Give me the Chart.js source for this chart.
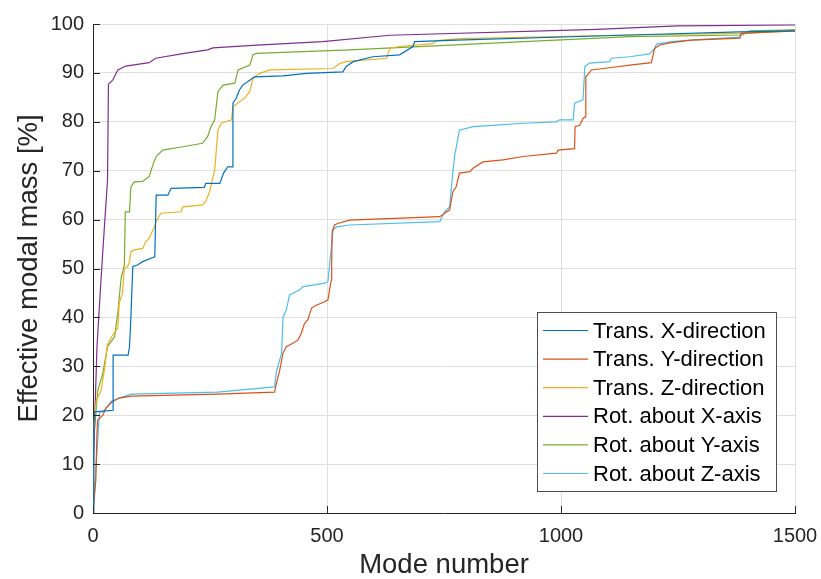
<!DOCTYPE html>
<html>
<head>
<meta charset="utf-8">
<script src="https://cdn.jsdelivr.net/npm/chart.js@4/dist/chart.umd.min.js"></script>
<style>
  html, body { margin: 0; padding: 0; background: #fff; }
  #wrap { width: 821px; height: 579px; }
</style>
</head>
<body>
<div id="wrap"><canvas id="chart" width="821" height="579"></canvas></div>
<script>
// ── Series: [mode number, cumulative effective modal mass %] ──
const transX = [
  [0, 0], [1, 10], [2, 17], [3, 20.7], [43, 21], [43, 32.3], [75, 32.3], [78, 34], [81, 40],
  [85, 50.4], [95, 50.7], [106, 51.4], [124, 52.1], [132, 52.4], [135, 65], [160, 65],
  [167, 66.4], [238, 66.6], [241, 67.4], [271, 67.4], [279, 69.5], [288, 70.8], [299, 70.8],
  [299, 83.8], [306, 84.8], [313, 86.5], [320, 87.5], [335, 88.5], [345, 89.2], [406, 89.4],
  [456, 89.9], [534, 90.2], [541, 91.3], [556, 92.3], [598, 93.3], [655, 93.7], [684, 95.4],
  [687, 96.4], [776, 96.7], [1147, 97.75], [1382, 98.4], [1500, 98.6]
];
const transY = [
  [0, 0], [6, 6.7], [8.5, 16.4], [10, 19], [21, 20], [28, 21.5], [42, 22.8], [56, 23.5],
  [81, 23.9], [266, 24.3], [388, 24.7], [392, 26.5], [399, 29.2], [406, 32.7], [413, 34],
  [427, 34.7], [438, 35.4], [445, 36.7], [452, 38.8], [459, 39.5], [467, 41.9], [477, 42.5],
  [495, 43.2], [502, 43.6], [509, 47.6], [510, 51], [511, 57.5], [516, 58.9], [523, 59.2],
  [548, 59.9], [741, 60.6], [762, 62], [769, 65.7], [776, 66.7], [783, 69.5], [805, 69.8],
  [812, 70.5], [833, 71.8], [876, 72.2], [919, 72.9], [990, 73.6], [994, 74.2], [1029, 74.5],
  [1030, 79], [1040, 79.3], [1047, 80.7], [1052, 81], [1053, 89.2], [1062, 90.2], [1065, 90.6],
  [1108, 91.1], [1147, 91.6], [1193, 92.1], [1200, 95], [1211, 95.7], [1236, 96.2],
  [1279, 96.7], [1382, 97.1], [1385, 98.1], [1500, 98.6]
];
const transZ = [
  [0, 0], [0.5, 15], [1.5, 17], [7, 23], [17, 25], [24, 29], [31, 34.4], [42, 36.4], [53, 37.8],
  [56, 42.9], [63, 44.9], [67, 50], [74, 50.4], [78, 51.4], [81, 53.4], [88, 53.8], [106, 54.1],
  [113, 55.5], [120, 56.2], [131, 58.5], [135, 59.6], [145, 61.3], [188, 61.6], [192, 62.6],
  [234, 63], [241, 63.7], [249, 65.7], [253, 67.4], [260, 70.1], [267, 78.3], [274, 79.7],
  [296, 80.4], [299, 83.1], [313, 84.1], [324, 84.8], [335, 86.2], [342, 88.9], [356, 89.9],
  [378, 90.6], [513, 90.9], [527, 91.9], [541, 92.3], [627, 93], [634, 95], [655, 95.4],
  [726, 96], [734, 96.6], [784, 97], [1147, 97.75], [1382, 98.1], [1500, 98.6]
];
const rotX = [
  [0, 0], [1, 8], [3, 17], [8.5, 34], [17, 47.6], [24, 58], [31, 68], [33, 87.7], [42, 88.5],
  [53, 90.6], [70, 91.4], [120, 92.1], [134, 93], [195, 94], [245, 94.7], [256, 95.1],
  [350, 95.7], [491, 96.4], [634, 97.7], [1076, 98.9], [1249, 99.6], [1500, 99.8]
];
const rotY = [
  [0, 0], [1, 14.3], [10, 25], [21, 28.6], [31, 34], [46, 36], [53, 41], [60, 48], [67, 50.7],
  [69, 61.6], [78, 61.6], [81, 66.7], [88, 67.7], [106, 67.8], [120, 68.8], [128, 71.2],
  [135, 72.9], [149, 74.2], [192, 74.9], [234, 75.6], [245, 77], [252, 79], [260, 80.4],
  [267, 86.2], [278, 87.5], [303, 87.9], [310, 90.6], [335, 91.6], [342, 93.7], [349, 94],
  [549, 94.7], [1147, 97.4], [1388, 97.75], [1403, 98.6], [1500, 98.8]
];
const rotZ = [
  [0, 0], [14, 20.7], [21, 20.7], [31, 21.7], [38, 22.8], [56, 23.5], [81, 24.3], [266, 24.7],
  [388, 25.8], [392, 28.9], [403, 32.7], [406, 40.1], [413, 41.5], [420, 44.6], [441, 45.6],
  [449, 46.3], [470, 46.6], [495, 47], [502, 47.3], [513, 57.9], [520, 58.5], [548, 58.9],
  [741, 59.6], [751, 61.6], [762, 62.6], [769, 69.8], [773, 73.2], [783, 78.3], [812, 79],
  [862, 79.3], [919, 79.7], [990, 80], [997, 80.4], [1026, 80.4], [1029, 83.8], [1047, 84.5],
  [1051, 91.3], [1061, 92], [1104, 92.3], [1108, 93], [1147, 93.3], [1189, 93.9], [1200, 95],
  [1204, 95.9], [1236, 96.4], [1275, 96.7], [1382, 97.3], [1385, 98.1], [1500, 98.8]
];

const seriesLabels = [
  'Trans. X-direction', 'Trans. Y-direction', 'Trans. Z-direction',
  'Rot. about X-axis', 'Rot. about Y-axis', 'Rot. about Z-axis'
];
const seriesData = [transX, transY, transZ, rotX, rotY, rotZ];
const seriesColors = ['#0072BD', '#D95319', '#EDB120', '#7E2F8E', '#77AC30', '#4DBEEE'];

const xTicks = [0, 500, 1000, 1500];
const yTicks = [0, 10, 20, 30, 40, 50, 60, 70, 80, 90, 100];

const FONT = '"Liberation Sans", Arial, Helvetica, sans-serif';
const AXIS_COLOR = '#262626';

// ── Inward tick marks (MATLAB style) ─────────────────────────
const innerTicks = {
  id: 'innerTicks',
  afterDatasetsDraw(chart) {
    const { ctx, chartArea, scales } = chart;
    ctx.save();
    ctx.strokeStyle = AXIS_COLOR;
    ctx.lineWidth = 1;
    ctx.beginPath();
    yTicks.forEach(v => {
      const y = Math.round(scales.y.getPixelForValue(v)) + 0.5;
      ctx.moveTo(chartArea.left, y);
      ctx.lineTo(chartArea.left + 7, y);
    });
    xTicks.forEach(v => {
      const x = Math.round(scales.x.getPixelForValue(v)) + 0.5;
      ctx.moveTo(x, chartArea.bottom);
      ctx.lineTo(x, chartArea.bottom - 7);
    });
    ctx.stroke();
    ctx.restore();
  }
};

// ── Boxed legend in lower right of the axes ──────────────────
const boxLegend = {
  id: 'boxLegend',
  afterDraw(chart) {
    const { ctx, chartArea } = chart;
    const w = 239, rowH = 28.6, h = 179;
    const left = chartArea.right - 19 - w;
    const top = chartArea.bottom - 22 - h;
    ctx.save();
    ctx.fillStyle = '#fff';
    ctx.fillRect(left, top, w, h);
    ctx.strokeStyle = '#4d4d4d';
    ctx.lineWidth = 1;
    ctx.strokeRect(Math.round(left) + 0.5, Math.round(top) + 0.5, w, h);
    ctx.font = '22px ' + FONT;
    ctx.textBaseline = 'middle';
    ctx.fillStyle = '#000';
    chart.data.datasets.forEach((ds, i) => {
      const y = top + 18.5 + i * rowH;
      ctx.strokeStyle = ds.borderColor;
      ctx.lineWidth = 1.2;
      ctx.beginPath();
      ctx.moveTo(left + 6, y);
      ctx.lineTo(left + 51, y);
      ctx.stroke();
      ctx.fillText(ds.label, left + 56, y + 1);
    });
    ctx.restore();
  }
};

new Chart(document.getElementById('chart'), {
  type: 'line',
  data: {
    datasets: seriesData.map((pts, i) => ({
      label: seriesLabels[i],
      data: pts.map(([x, y]) => ({ x, y })),
      borderColor: seriesColors[i],
      borderWidth: 1.2,
      pointRadius: 0,
      tension: 0,
      fill: false
    }))
  },
  options: {
    responsive: false,
    animation: false,
    layout: { padding: { top: 24, right: 26, left: 0, bottom: 0 } },
    plugins: { legend: { display: false }, tooltip: { enabled: false } },
    scales: {
      x: {
        type: 'linear',
        min: 0, max: 1500,
        afterBuildTicks: s => { s.ticks = xTicks.map(v => ({ value: v })); },
        afterFit: s => { s.height = 66; s.paddingLeft = 0; s.paddingRight = 0; },
        ticks: { color: AXIS_COLOR, font: { family: FONT, size: 20 }, padding: 11, maxRotation: 0, callback: v => String(v) },
        grid: { color: '#dfdfdf', drawTicks: false },
        border: { color: AXIS_COLOR, width: 1 },
        title: { display: true, text: 'Mode number', color: AXIS_COLOR, font: { family: FONT, size: 27.5, lineHeight: 1 }, padding: { top: 0, bottom: 0 } }
      },
      y: {
        min: 0, max: 100,
        afterBuildTicks: s => { s.ticks = yTicks.map(v => ({ value: v })); },
        afterFit: s => { s.width = 93; s.paddingTop = 0; s.paddingBottom = 0; },
        ticks: { color: AXIS_COLOR, font: { family: FONT, size: 20 }, padding: 9 },
        grid: { color: '#dfdfdf', drawTicks: false },
        border: { color: AXIS_COLOR, width: 1 },
        title: { display: true, text: 'Effective modal mass [%]', color: AXIS_COLOR, font: { family: FONT, size: 27.5, lineHeight: 1.2 }, padding: { top: 13, bottom: 0 } }
      }
    }
  },
  plugins: [innerTicks, boxLegend]
});
</script>
</body>
</html>
